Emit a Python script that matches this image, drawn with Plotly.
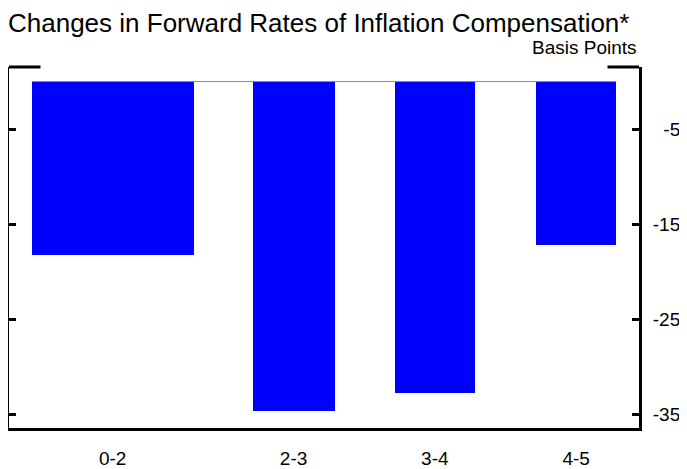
import plotly.graph_objects as go

# forward horizons (years ahead) and change in basis points
horizons = ["0-2", "2-3", "3-4", "4-5"]
x_mid = [1.22, 2.5, 3.5, 4.5]
bar_width = [1.145, 0.58, 0.57, 0.57]
changes = [-18.3, -34.7, -32.8, -17.2]

y_ticks = [-5, -15, -25, -35]
y_tick_text = ["\u2007-5", "-15", "-25", "-35"]

font = "Liberation Sans, Arial, sans-serif"

# page body keeps an 8px default margin, so the figure is 8px smaller
W, H = 679, 461

fig = go.Figure(go.Bar(
    x=x_mid, y=changes, width=bar_width,
    marker=dict(color="#0000ff", line=dict(width=0)),
))

left_edge = x_mid[0] - bar_width[0] / 2
right_edge = x_mid[-1] + bar_width[-1] / 2

shapes = [
    # thin zero line across the bars
    dict(type="line", xref="x", yref="y", x0=left_edge, x1=right_edge, y0=0, y1=0,
         line=dict(color="#8c8c8c", width=1)),
    # short corner pieces of the top frame
    dict(type="line", xref="paper", yref="paper", x0=0, x1=0.05, y0=1, y1=1,
         line=dict(color="black", width=3)),
    dict(type="line", xref="paper", yref="paper", x0=0.95, x1=1, y0=1, y1=1,
         line=dict(color="black", width=3)),
]

fig.update_layout(
    width=W, height=H,
    margin=dict(l=1, r=48, t=59, b=41, autoexpand=False),
    paper_bgcolor="white", plot_bgcolor="white",
    font=dict(family=font, size=19, color="black"),
    showlegend=False,
    shapes=shapes,
    title=dict(text="Changes in Forward Rates of Inflation Compensation*",
               x=0, xanchor="left", y=1 - 5.5 / H, yanchor="top",
               font=dict(size=26, family=font)),
    annotations=[dict(text="Basis Points", xref="paper", yref="paper",
                      x=1, y=1, xanchor="right", yanchor="bottom", yshift=7,
                      showarrow=False, font=dict(size=19, family=font))],
    bargap=0,
)

fig.update_xaxes(
    range=[0.486, 4.945],
    tickvals=x_mid, ticktext=horizons,
    showline=True, linecolor="black", linewidth=3,
    ticks="", showgrid=False, zeroline=False,
    ticklabelstandoff=11, automargin=False,
)
fig.update_yaxes(
    range=[-36.47, 1.53],
    side="right",
    tickvals=y_ticks, ticktext=y_tick_text,
    showline=True, mirror="ticks", linecolor="black", linewidth=3,
    ticks="inside", ticklen=7, tickwidth=3, tickcolor="black",
    showgrid=False, zeroline=False,
    ticklabelstandoff=7, automargin=False,
)

fig.write_html("out.html")
